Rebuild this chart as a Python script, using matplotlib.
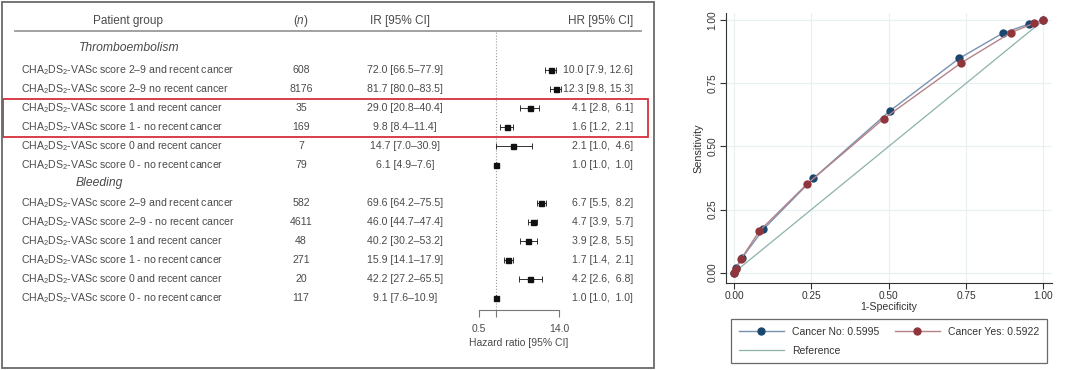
import matplotlib.pyplot as plt
import matplotlib.transforms as mtransforms
from matplotlib.patches import Rectangle
from matplotlib.lines import Line2D
import numpy as np

plt.rcParams['font.family'] = ['Liberation Sans', 'DejaVu Sans']
plt.rcParams['mathtext.fontset'] = 'custom'
plt.rcParams['mathtext.rm'] = 'Liberation Sans'
plt.rcParams['mathtext.it'] = 'Liberation Sans:italic'

txt = "#4a4a4a"
W, H = 1080, 370

# ---- forest plot data ----
groups = ["Thromboembolism", "Bleeding"]
cha = "CHA$_2$DS$_2$-VASc score "
row_labels = [
    "2–9 and recent cancer", "2–9 no recent cancer", "1 and recent cancer",
    "1 - no recent cancer", "0 and recent cancer", "0 - no recent cancer",
    "2–9 and recent cancer", "2–9 - no recent cancer", "1 and recent cancer",
    "1 - no recent cancer", "0 and recent cancer", "0 - no recent cancer",
]
n_vals = [608, 8176, 35, 169, 7, 79, 582, 4611, 48, 271, 20, 117]
ir = [72.0, 81.7, 29.0, 9.8, 14.7, 6.1, 69.6, 46.0, 40.2, 15.9, 42.2, 9.1]
ir_lo = [66.5, 80.0, 20.8, 8.4, 7.0, 4.9, 64.2, 44.7, 30.2, 14.1, 27.2, 7.6]
ir_hi = [77.9, 83.5, 40.4, 11.4, 30.9, 7.6, 75.5, 47.4, 53.2, 17.9, 65.5, 10.9]
hr = np.array([10.0, 12.3, 4.1, 1.6, 2.1, 1.0, 6.7, 4.7, 3.9, 1.7, 4.2, 1.0])
hr_lo = np.array([7.9, 9.8, 2.8, 1.2, 1.0, 1.0, 5.5, 3.9, 2.8, 1.4, 2.6, 1.0])
hr_hi = np.array([12.6, 15.3, 6.1, 2.1, 4.6, 1.0, 8.2, 5.7, 5.5, 2.1, 6.8, 1.0])

# ---- ROC data ----
fpr_no = [0.0, 0.006, 0.025, 0.095, 0.256, 0.504, 0.728, 0.869, 0.953, 1.0]
tpr_no = [0.0, 0.017, 0.057, 0.172, 0.373, 0.641, 0.849, 0.949, 0.985, 1.0]
fpr_yes = [0.0, 0.005, 0.023, 0.082, 0.235, 0.484, 0.733, 0.895, 0.971, 1.0]
tpr_yes = [0.0, 0.013, 0.055, 0.165, 0.350, 0.610, 0.830, 0.951, 0.989, 1.0]
auc_no, auc_yes = 0.5995, 0.5922

fig = plt.figure(figsize=(W / 100, H / 100), dpi=100)

def fx(px):
    return px / W

def fy(py):
    return 1 - py / H

# row positions: thrombo 0..5, bleeding 7..12 (pixel = 70 + 19*pos)
pos = np.r_[np.arange(6), np.arange(7, 13)]

ax = fig.add_axes([fx(479), fy(310), 80 / W, (310 - 31) / H])
ax.set_xscale('log')
ax.set_xlim(0.5, 14)
ax.set_ylim((310 - 70) / 19, (31 - 70) / 19)
ax.axvline(1, color='#9a9a9a', ls=':', lw=0.8, zorder=1)
ax.errorbar(hr, pos, xerr=[hr - hr_lo, hr_hi - hr], fmt='s', color='#111111',
            ms=3.6, capsize=2, elinewidth=0.6, capthick=0.6, clip_on=False, zorder=3)
ax.set_xticks([0.5, 1, 14])
ax.set_xticklabels(['0.5', '', '14.0'])
ax.xaxis.set_minor_locator(plt.NullLocator())
ax.set_yticks([])
for s in ['top', 'left', 'right']:
    ax.spines[s].set_visible(False)
ax.spines['bottom'].set_color('#777777')
ax.spines['bottom'].set_linewidth(0.8)
ax.tick_params(axis='x', direction='out', length=5, width=0.8, color='#777777',
               labelsize=7.5, labelcolor=txt, pad=5)
ax.set_xlabel("Hazard ratio [95% CI]", fontsize=7.5, color=txt, labelpad=3)
ax.patch.set_alpha(0)

tr = mtransforms.blended_transform_factory(fig.transFigure, ax.transData)
fs = 7.6
hy = (21 - 70) / 19
ax.text(fx(128), hy, "Patient group", transform=tr, ha='center', va='center', fontsize=8.5, color=txt)
ax.text(fx(301), hy, "($n$)", transform=tr, ha='center', va='center', fontsize=8.5, color=txt)
ax.text(fx(400), hy, "IR [95% CI]", transform=tr, ha='center', va='center', fontsize=8.5, color=txt)
ax.text(fx(633), hy, "HR [95% CI]", transform=tr, ha='right', va='center', fontsize=8.5, color=txt)
fig.add_artist(Line2D([fx(15), fx(641)], [fy(31), fy(31)], color='#9a9a9a', lw=1.3))

ax.text(fx(79), (48 - 70) / 19, groups[0], transform=tr, ha='left', va='center',
        fontsize=8.7, style='italic', color=txt)
ax.text(fx(76), (183 - 70) / 19, groups[1], transform=tr, ha='left', va='center',
        fontsize=8.7, style='italic', color=txt)

for i, p in enumerate(pos):
    ax.text(fx(21), p, cha + row_labels[i], transform=tr, ha='left', va='center', fontsize=fs, color=txt)
    ax.text(fx(301), p, str(n_vals[i]), transform=tr, ha='center', va='center', fontsize=fs, color=txt)
    ax.text(fx(405), p, f"{ir[i]:.1f} [{ir_lo[i]:.1f}–{ir_hi[i]:.1f}]", transform=tr,
            ha='center', va='center', fontsize=fs, color=txt)
    sep = ",  " if hr_hi[i] < 10 else ", "
    ax.text(fx(633), p, f"{hr[i]:.1f} [{hr_lo[i]:.1f}{sep}{hr_hi[i]:.1f}]", transform=tr,
            ha='right', va='center', fontsize=fs, color=txt)

# highlight box around score-1 thromboembolism rows
ax.add_patch(Rectangle((fx(3), 1.53), 645 / W, 2.0, transform=tr, fill=False,
                       ec='#d42f3a', lw=1.3, clip_on=False))

# panel border
fig.add_artist(Rectangle((fx(2), fy(368)), 652 / W, 366 / H, transform=fig.transFigure,
                         fill=False, ec='#6a6a6a', lw=1.3))

# ---- ROC panel ----
ax2 = fig.add_axes([fx(725.7), fy(282.7), 326.3 / W, 270 / H])
ax2.set_xlim(-0.027, 1.028)
ax2.set_ylim(-0.04, 1.03)
ticks = [0, 0.25, 0.5, 0.75, 1.0]
ax2.set_xticks(ticks)
ax2.set_yticks(ticks)
ax2.set_xticklabels([f"{t:.2f}" for t in ticks])
ax2.set_yticklabels([f"{t:.2f}" for t in ticks], rotation=90, va='center')
ax2.grid(True, color='#e8f0f2', lw=0.9)
ax2.set_axisbelow(True)
for s in ['top', 'right']:
    ax2.spines[s].set_visible(False)
for s in ['left', 'bottom']:
    ax2.spines[s].set_color('#333333')
    ax2.spines[s].set_linewidth(0.8)
ax2.tick_params(direction='out', length=4, width=0.8, color='#333333',
                labelsize=7.3, labelcolor='#333333', pad=2)

h_ref, = ax2.plot([0, 1], [0, 1], color='#8bb3ab', lw=0.9, zorder=2)
h_no, = ax2.plot(fpr_no, tpr_no, '-o', color='#7a92b0', mfc='#1a476f', mec='#1a476f',
                 ms=5, lw=1.0, zorder=3, clip_on=False)
h_yes, = ax2.plot(fpr_yes, tpr_yes, '-o', color='#b58288', mfc='#90353b', mec='#90353b',
                  ms=5, lw=1.0, zorder=4, clip_on=False)
ax2.set_xlabel("1-Specificity", fontsize=7.6, color='#333333', labelpad=1)
ax2.set_ylabel("Sensitivity", fontsize=7.8, color='#333333', labelpad=3)

leg = fig.legend([h_no, h_ref, h_yes],
                 [f"Cancer No: {auc_no:.4f}", "Reference", f"Cancer Yes: {auc_yes:.4f}"],
                 ncol=2, loc='upper left', bbox_to_anchor=(fx(731), fy(319)),
                 fontsize=7.5, frameon=True, fancybox=False, handlelength=4.3,
                 columnspacing=1.5, borderpad=0.75, labelspacing=0.85, handletextpad=0.8,
                 borderaxespad=0)
leg.get_frame().set_edgecolor('#444444')
leg.get_frame().set_linewidth(0.9)
for t in leg.get_texts():
    t.set_color('#333333')

fig.savefig("out.png", dpi=100)
